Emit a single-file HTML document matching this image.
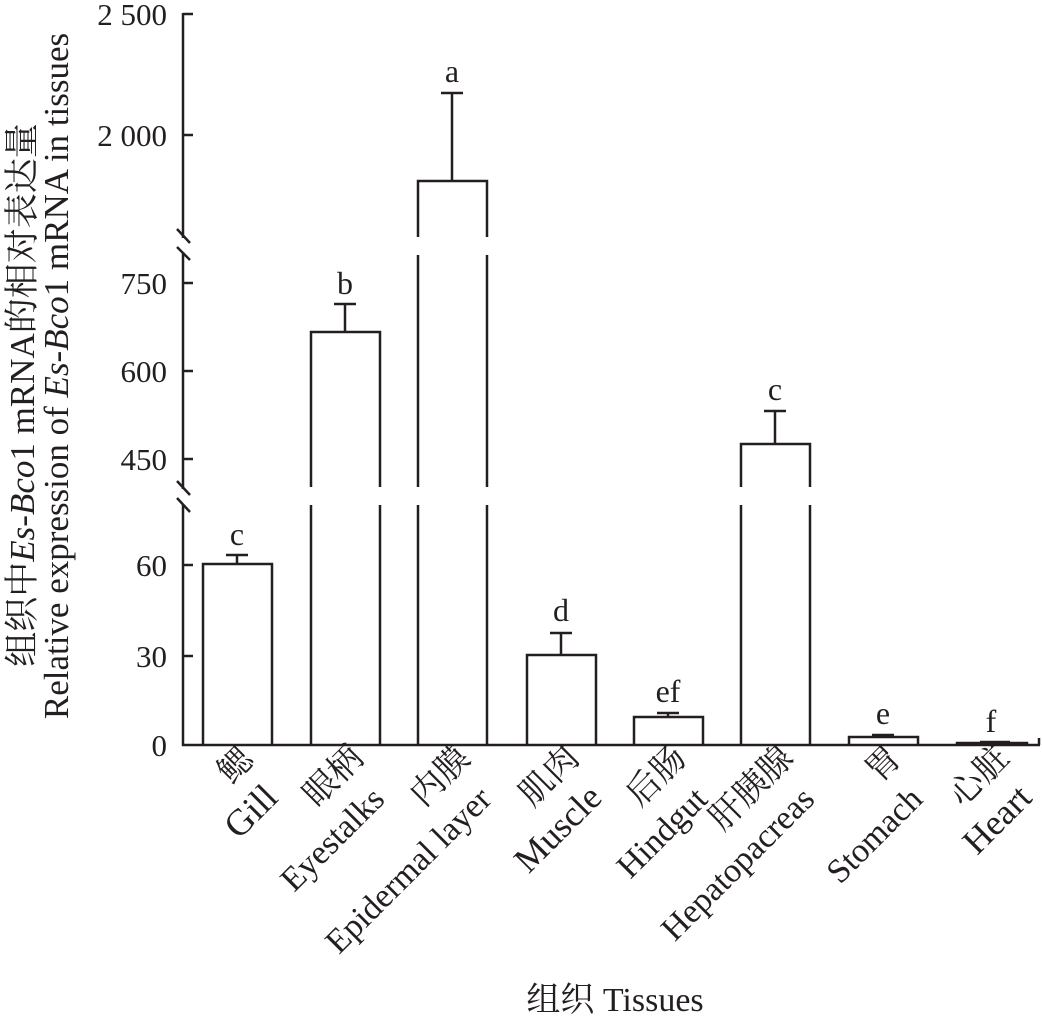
<!DOCTYPE html>
<html><head><meta charset="utf-8"><style>
html,body{margin:0;padding:0;background:#fff;}
svg{display:block;}
text{font-family:"Liberation Serif","Noto Serif CJK SC","Noto Sans CJK SC",serif;fill:#231f20;}
</style></head><body>
<svg width="1042" height="1016" viewBox="0 0 1042 1016" xmlns="http://www.w3.org/2000/svg">
<g stroke="#231f20" stroke-width="2.5" fill="none">
  <line x1="183" y1="13" x2="183" y2="238"/>
  <line x1="183" y1="252" x2="183" y2="489"/>
  <line x1="183" y1="504" x2="183" y2="746"/>
  <line x1="177" y1="229" x2="190" y2="243"/>
  <line x1="177" y1="247" x2="190" y2="260"/>
  <line x1="177" y1="481" x2="190" y2="495"/>
  <line x1="177" y1="498" x2="190" y2="512"/>
  <line x1="183" y1="14" x2="193" y2="14"/>
  <line x1="183" y1="135" x2="193" y2="135"/>
  <line x1="183" y1="283" x2="193" y2="283"/>
  <line x1="183" y1="371" x2="193" y2="371"/>
  <line x1="183" y1="459" x2="193" y2="459"/>
  <line x1="183" y1="565" x2="193" y2="565"/>
  <line x1="183" y1="656" x2="193" y2="656"/>
  <line x1="182" y1="745" x2="1040" y2="745"/>
  <line x1="1039" y1="738" x2="1039" y2="745"/>
  <path d="M203 745 V564 H272 V745"/>
  <path d="M237 564 V555 M226 555 H248"/>
  <path d="M311 487 V332 H380 V487"/>
  <path d="M311 505 V745 M380 505 V745"/>
  <path d="M345 332 V304 M334 304 H356"/>
  <path d="M418 237 V181 H487 V237"/>
  <path d="M418 255 V487 M487 255 V487"/>
  <path d="M418 505 V745 M487 505 V745"/>
  <path d="M452 181 V93 M441 93 H463"/>
  <path d="M527 745 V655 H596 V745"/>
  <path d="M561 655 V633 M550 633 H572"/>
  <path d="M634 745 V717 H703 V745"/>
  <path d="M668 717 V713 M657 713 H679"/>
  <path d="M741 487 V444 H810 V487"/>
  <path d="M741 505 V745 M810 505 V745"/>
  <path d="M775 444 V411 M764 411 H786"/>
  <path d="M849 745 V737 H918 V745"/>
  <path d="M883 737 V735 M872 735 H894"/>
  <path d="M957 745 V743 H1027 V745"/>
  <path d="M980 742 H1010"/>
</g>
<g font-size="31" text-anchor="end">
  <text x="167" y="25">2 500</text>
  <text x="167" y="146">2 000</text>
  <text x="167" y="294">750</text>
  <text x="167" y="382">600</text>
  <text x="167" y="470">450</text>
  <text x="167" y="576">60</text>
  <text x="167" y="667">30</text>
  <text x="167" y="756">0</text>
</g>
<g font-size="32" text-anchor="middle">
  <text x="237" y="545">c</text>
  <text x="345" y="294">b</text>
  <text x="452" y="82">a</text>
  <text x="561" y="621">d</text>
  <text x="668" y="702">ef</text>
  <text x="775" y="400">c</text>
  <text x="883" y="724">e</text>
  <text x="991" y="732">f</text>
</g>
<text transform="translate(34,395) rotate(-90)" font-size="35" text-anchor="middle">组织中<tspan font-style="italic">Es-Bco</tspan>1 mRNA的相对表达量</text>
<text transform="translate(68,376) rotate(-90)" font-size="35" text-anchor="middle">Relative expression of <tspan font-style="italic">Es-Bco</tspan>1 mRNA in tissues</text>
<g font-size="34" text-anchor="end">
  <g transform="translate(257,760) rotate(-45)"><text x="-2" y="0">鳃</text><text x="-12" y="44" font-size="37">Gill</text></g>
  <g transform="translate(365,760) rotate(-45)"><text x="0" y="0">眼柄</text><text x="-14" y="44">Eyestalks</text></g>
  <g transform="translate(472,760) rotate(-45)"><text x="0" y="0">内膜</text><text x="-14" y="44">Epidermal layer</text></g>
  <g transform="translate(581,760) rotate(-45)"><text x="0" y="0">肌肉</text><text x="-12" y="44" font-size="36">Muscle</text></g>
  <g transform="translate(688,760) rotate(-45)"><text x="0" y="0">后肠</text><text x="-14" y="44">Hindgut</text></g>
  <g transform="translate(795,760) rotate(-45)"><text x="0" y="0">肝胰腺</text><text x="-14" y="44">Hepatopacreas</text></g>
  <g transform="translate(903,760) rotate(-45)"><text x="0" y="0">胃</text><text x="-14" y="44">Stomach</text></g>
  <g transform="translate(1011,760) rotate(-45)"><text x="0" y="0">心脏</text><text x="-12" y="44" font-size="36">Heart</text></g>
</g>
<text x="615" y="1011" font-size="34" text-anchor="middle">组织 Tissues</text>
</svg>
</body></html>
